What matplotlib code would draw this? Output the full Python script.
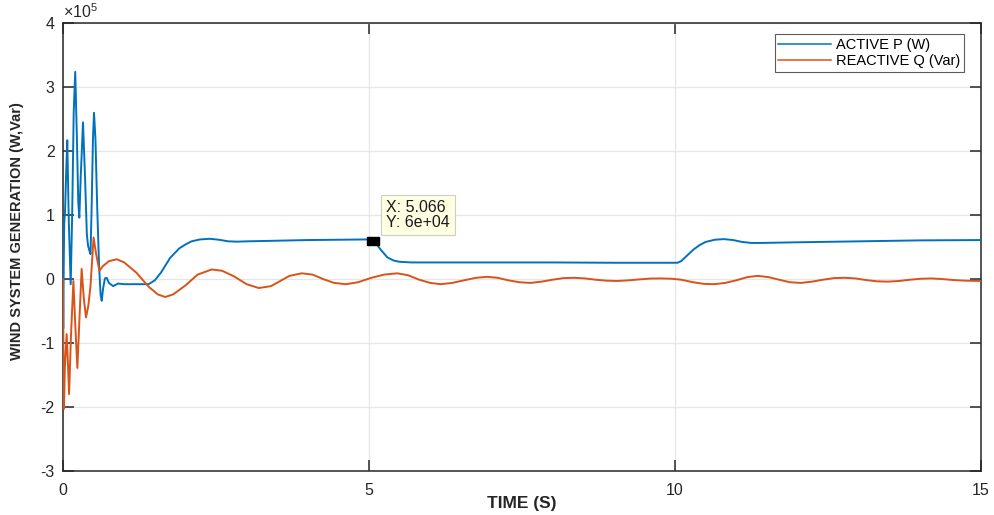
import numpy as np
import matplotlib
matplotlib.use("Agg")
import matplotlib.pyplot as plt

plt.rcParams["font.family"] = ["Liberation Sans", "DejaVu Sans"]
plt.rcParams["mathtext.fontset"] = "custom"
plt.rcParams["mathtext.rm"] = "Liberation Sans"
plt.rcParams["mathtext.it"] = "Liberation Sans"
plt.rcParams["axes.unicode_minus"] = False

# Active power of the wind system (units of 1e5 W)
t_p = [0.000, 0.004, 0.012, 0.020, 0.035, 0.050, 0.070, 0.095, 0.126, 0.150,
       0.175, 0.200, 0.225, 0.250, 0.267, 0.290, 0.327, 0.360, 0.390, 0.410,
       0.430, 0.450, 0.470, 0.490, 0.507, 0.530, 0.560, 0.590, 0.615, 0.633,
       0.655, 0.685, 0.715, 0.750, 0.820, 0.900, 1.000, 1.200, 1.400, 1.500,
       1.600, 1.750, 1.900, 2.000, 2.100, 2.240, 2.400, 2.550, 2.700, 2.850,
       3.000, 3.500, 4.000, 4.500, 5.000, 5.066, 5.120, 5.200, 5.300, 5.400,
       5.500, 5.700, 6.000, 7.000, 8.000, 9.000, 10.000, 10.040, 10.100, 10.200,
       10.300, 10.400, 10.500, 10.650, 10.800, 10.950, 11.100, 11.250, 11.400, 12.000,
       13.000, 14.000, 15.000]
p_active_e5 = [0.00, -0.77, 0.20, 0.86, 1.10, 1.60, 2.17, 0.90, -0.08, 1.00,
               2.60, 3.24, 2.30, 1.20, 0.96, 1.60, 2.45, 1.60, 0.70, 0.52,
               0.45, 0.39, 1.20, 2.20, 2.60, 2.20, 1.10, 0.20, -0.25, -0.34,
               -0.15, 0.01, 0.02, -0.06, -0.11, -0.07, -0.08, -0.08, -0.08, -0.02,
               0.10, 0.33, 0.48, 0.54, 0.59, 0.62, 0.63, 0.615, 0.59, 0.585,
               0.59, 0.60, 0.61, 0.615, 0.62, 0.60, 0.55, 0.45, 0.34, 0.29,
               0.27, 0.26, 0.26, 0.26, 0.26, 0.255, 0.255, 0.255, 0.28, 0.37,
               0.46, 0.53, 0.58, 0.615, 0.625, 0.61, 0.58, 0.565, 0.565, 0.575,
               0.59, 0.605, 0.61]

# Reactive power of the wind system (units of 1e5 Var)
t_q = [0.000, 0.008, 0.016, 0.030, 0.060, 0.080, 0.100, 0.130, 0.170, 0.200,
       0.235, 0.270, 0.305, 0.340, 0.376, 0.414, 0.450, 0.500, 0.540, 0.595,
       0.650, 0.750, 0.880, 1.000, 1.200, 1.400, 1.550, 1.670, 1.800, 2.000,
       2.200, 2.430, 2.600, 2.800, 3.000, 3.200, 3.400, 3.550, 3.700, 3.900,
       4.080, 4.250, 4.430, 4.620, 4.820, 5.040, 5.250, 5.460, 5.640, 5.820,
       6.000, 6.170, 6.360, 6.550, 6.750, 6.930, 7.100, 7.280, 7.460, 7.640,
       7.820, 8.000, 8.180, 8.350, 8.530, 8.700, 8.880, 9.060, 9.240, 9.420,
       9.600, 9.770, 9.950, 10.100, 10.300, 10.470, 10.640, 10.820, 11.000, 11.180,
       11.350, 11.530, 11.700, 11.880, 12.060, 12.240, 12.420, 12.600, 12.770, 12.950,
       13.120, 13.300, 13.480, 13.660, 13.840, 14.020, 14.190, 14.370, 14.550, 14.750,
       15.000]
q_reactive_e5 = [0.00, -1.20, -2.03, -1.40, -0.86, -1.30, -1.80, -0.90, -0.03, -0.70,
                 -1.39, -0.60, 0.16, -0.30, -0.60, -0.42, -0.10, 0.65, 0.40, 0.13,
                 0.20, 0.28, 0.31, 0.26, 0.10, -0.12, -0.24, -0.28, -0.24, -0.10,
                 0.07, 0.15, 0.13, 0.04, -0.08, -0.14, -0.11, -0.03, 0.05, 0.09,
                 0.07, 0.00, -0.06, -0.08, -0.05, 0.02, 0.07, 0.09, 0.06, -0.01,
                 -0.06, -0.08, -0.06, -0.02, 0.02, 0.035, 0.02, -0.02, -0.05, -0.06,
                 -0.04, -0.01, 0.015, 0.02, 0.01, -0.01, -0.025, -0.03, -0.02, -0.005,
                 0.008, 0.01, 0.005, -0.01, -0.05, -0.075, -0.08, -0.06, -0.02, 0.03,
                 0.05, 0.03, -0.01, -0.05, -0.06, -0.04, -0.01, 0.015, 0.02, 0.01,
                 -0.015, -0.035, -0.04, -0.03, -0.01, 0.005, 0.01, 0.0, -0.015, -0.025,
                 -0.03]

series_labels = ["ACTIVE P (W)", "REACTIVE Q (Var)"]
x_ticks = [0, 5, 10, 15]
y_tick_e5 = [-3, -2, -1, 0, 1, 2, 3, 4]
y_tick_labels = ["-3", "-2", "-1", "0", "1", "2", "3", "4"]
tip_x, tip_y = 5.066, 6e4

P = np.array(p_active_e5) * 1e5
Q = np.array(q_reactive_e5) * 1e5

fig = plt.figure(figsize=(9.95, 5.15), dpi=100)
ax = fig.add_axes([0.0633, 0.0856, 0.9226, 0.8692])

ax.plot(t_p, P, color="#0072BD", lw=1.4, label=series_labels[0], zorder=3)
ax.plot(t_q, Q, color="#D95319", lw=1.4, label=series_labels[1], zorder=3)

ax.set_xlim(0, 15)
ax.set_ylim(-3e5, 4e5)
ax.set_xticks(x_ticks)
ax.set_yticks(np.array(y_tick_e5) * 1e5)
ax.set_yticklabels(y_tick_labels)

# exponent marker for the y axis
ax.text(0.0, 1.004, r"$\times10^{5}$", transform=ax.transAxes,
        ha="left", va="bottom", fontsize=11.5, color="#262626")

ax.grid(True, color="#e6e6e6", lw=0.9, zorder=0)
ax.tick_params(direction="in", length=8, width=1.1, color="#262626",
               labelsize=11.5, labelcolor="#262626", top=True, right=True)
ax.tick_params(axis="x", pad=9)
ax.tick_params(axis="y", pad=6)
for s in ax.spines.values():
    s.set_color("#262626")
    s.set_linewidth(1.1)

ax.set_xlabel("TIME (S)", fontsize=12.5, fontweight="bold", color="#262626",
              va="center")
ax.xaxis.set_label_coords(0.5, -0.072)
ax.set_ylabel("WIND SYSTEM GENERATION (W,Var)",
              fontsize=10.5, fontweight="bold", color="#262626")
ax.yaxis.set_label_coords(-0.042, 0.535)

leg = ax.legend(loc="upper right", bbox_to_anchor=(0.9815, 0.975), fontsize=10.5,
                frameon=True, fancybox=False, edgecolor="#333333",
                handlelength=3.6, handletextpad=0.35, borderpad=0.25,
                labelspacing=0.15, borderaxespad=0.0)
leg.get_frame().set_linewidth(0.8)
for h in leg.get_lines():
    h.set_linewidth(1.1)

# Data tip on the active power curve
ax.plot([tip_x], [tip_y], linestyle="none",
        marker=[(-1.5, -1.0), (1.5, -1.0), (1.5, 1.0), (-1.5, 1.0), (-1.5, -1.0)],
        markersize=9, color="black", zorder=5)
ax.annotate(f"X: {tip_x}\nY: {tip_y:.0e}",
            xy=(tip_x, tip_y), xytext=(13, 11), textcoords="offset pixels",
            ha="left", va="bottom", fontsize=11.5, color="#1a1a1a",
            linespacing=1.0,
            bbox=dict(boxstyle="square,pad=0.32", fc="#FFFFE1", ec="#cccccc", lw=0.8),
            zorder=6)

fig.savefig("out.png", dpi=100)
